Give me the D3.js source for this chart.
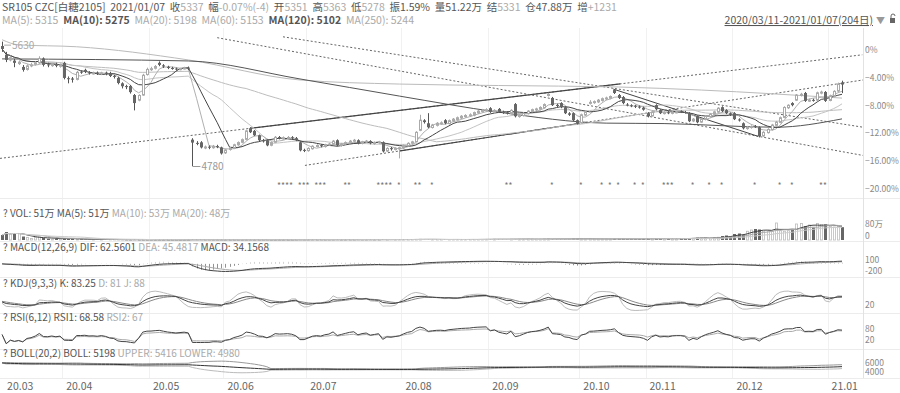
<!DOCTYPE html>
<html><head><meta charset="utf-8">
<script src="https://cdn.jsdelivr.net/npm/d3@7"></script>
<style>
body{margin:0;background:#fff;}
svg{display:block;font-family:"Noto Sans CJK SC","Noto Sans",sans-serif;}
</style></head><body>
<svg id="c" width="900" height="393"></svg>
<script>
// ---------------- DATA ----------------
const opens = [5600,5540,5505,5500,5480,5457,5440,5468,5475,5485,5515,5475,5466,5478,5462,
5485,5380,5378,5372,5425,5437,5420,5413,5418,5410,5418,5416,5396,5382,5345,5326,5327,5265,5230,5265,5405,
5440,5448,5485,5468,5458,5450,5446,5440,5446,5452,4960,4938,4942,4905,4912,4905,4916,4907,
4870,4895,4900,4925,4942,4962,5038,5020,4990,4955,4956,4922,4942,4978,4968,4970,4976,4970,4942,4890,
4885,4898,4916,4922,4913,4926,4932,4956,4920,4932,4942,4950,4956,4936,4946,4950,4933,4940,4942,4882,4902,4893,4898,
4903,4918,4936,4947,5024,5092,5072,5043,5058,5071,5093,5070,5088,5098,5108,5118,5123,5128,5143,5153,5158,
5175,5148,5170,5150,5146,5140,5203,5118,5125,5138,5153,5163,5168,5178,5262,5245,5198,5210,5182,5140,5141,5093,
5075,5128,5210,5213,5218,5228,5238,5243,5299,5265,5251,5200,5195,5192,5186,5178,
5141,5122,5196,5162,5140,5147,5140,5146,5152,5149,5141,5088,5120,5080,5098,5118,5133,5148,5182,5162,5140,
5141,5098,5072,5036,5043,5052,5045,4985,5008,5028,5058,5078,5112,5178,5210,5230,5262,5279,5226,5232,5230,5278,5286,
5228,5258,5292,5351];
const highs = [5630,5560,5535,5512,5502,5470,5475,5485,5496,5530,5522,5486,5484,5486,5480,
5492,5392,5388,5430,5432,5445,5428,5425,5426,5424,5425,5424,5402,5390,5352,5335,5334,5272,5270,5410,5452,
5458,5470,5495,5476,5465,5458,5452,5452,5458,5460,4970,4950,4950,4920,4920,4924,4925,4912,
4898,4910,4932,4948,4968,5028,5045,5026,4995,4965,4962,4948,4985,4985,4982,4985,4984,4978,4948,4898,
4908,4922,4928,4930,4932,4938,4958,4962,4938,4948,4958,4965,4962,4952,4958,4956,4948,4952,4948,4908,4910,4908,4912,
4928,4942,4952,5018,5130,5100,5141,5068,5080,5085,5100,5098,5108,5118,5128,5134,5140,5152,5162,5170,5175,
5182,5168,5176,5158,5155,5168,5210,5136,5148,5162,5172,5178,5188,5208,5280,5252,5205,5216,5188,5148,5146,5098,
5138,5158,5230,5228,5238,5248,5254,5262,5306,5272,5258,5210,5202,5198,5194,5186,
5148,5158,5202,5168,5154,5155,5156,5158,5160,5156,5148,5108,5126,5108,5128,5142,5158,5182,5188,5168,5146,
5148,5106,5078,5054,5058,5060,5050,5018,5038,5068,5088,5118,5188,5202,5216,5272,5280,5286,5240,5240,5288,5295,5292,
5268,5298,5350,5363];
const lows = [5560,5490,5495,5455,5470,5425,5432,5455,5466,5478,5460,5455,5458,5455,5452,
5372,5345,5350,5365,5410,5415,5405,5405,5402,5402,5400,5388,5378,5338,5310,5305,5275,5160,5222,5260,5398,
5430,5440,5462,5450,5442,5438,5432,5434,5440,5436,4780,4922,4900,4895,4895,4898,4902,4858,
4862,4885,4895,4918,4935,4955,5005,4984,4950,4940,4915,4915,4936,4962,4960,4962,4962,4950,4880,4875,
4878,4892,4908,4908,4906,4918,4926,4915,4912,4925,4935,4942,4928,4928,4938,4928,4925,4932,4872,4875,4885,4886,4832,
4896,4912,4928,4940,5018,5070,5038,5036,5050,5062,5065,5064,5080,5090,5100,5110,5115,5120,5136,5145,5150,
5143,5140,5144,5136,5132,5133,5112,5110,5118,5132,5146,5156,5160,5172,5255,5190,5182,5175,5135,5122,5086,5064,
5070,5122,5200,5205,5210,5220,5230,5236,5272,5238,5202,5188,5182,5176,5172,5158,
5112,5118,5160,5135,5132,5134,5133,5140,5142,5138,5080,5080,5072,5075,5092,5110,5126,5142,5148,5134,5122,
5094,5084,5030,5028,5035,5040,4975,4980,5002,5022,5052,5072,5106,5170,5188,5224,5255,5218,5218,5220,5225,5270,5218,
5222,5250,5285,5278];
const closes = [5580,5505,5520,5485,5490,5437,5464,5471,5485,5515,5471,5468,5475,5465,5470,
5382,5375,5370,5420,5420,5423,5415,5416,5412,5416,5410,5395,5390,5347,5325,5320,5285,5210,5262,5400,5440,
5445,5460,5471,5460,5450,5445,5440,5445,5450,5445,4940,4935,4907,4910,4905,4915,4912,4866,
4890,4900,4925,4940,4960,5020,5011,4990,4956,4950,4921,4940,4976,4970,4972,4975,4970,4956,4887,4887,
4900,4915,4920,4915,4925,4930,4950,4921,4930,4940,4950,4956,4935,4945,4950,4935,4940,4945,4880,4900,4895,4900,4905,
4920,4935,4945,5010,5093,5080,5045,5060,5072,5075,5072,5090,5100,5110,5120,5125,5130,5145,5155,5160,5165,
5150,5160,5150,5145,5141,5160,5120,5127,5140,5155,5165,5170,5180,5200,5270,5196,5190,5182,5141,5130,5093,5072,
5130,5150,5215,5220,5230,5240,5245,5255,5279,5245,5210,5196,5190,5185,5180,5165,
5120,5150,5168,5141,5145,5141,5148,5150,5150,5145,5086,5100,5079,5100,5120,5135,5150,5175,5155,5141,5130,
5100,5093,5038,5045,5050,5048,4983,5010,5030,5060,5080,5110,5180,5195,5196,5265,5270,5225,5230,5228,5280,5285,5225,
5260,5290,5341,5337];
const volumes = [20,32,24,28,26,14,10,6,11,13,8,5,4,6,5,
8,5,4,3,3,2,2,2,3,2,2,1.5,1.5,1.5,1.5,1,1,1.5,1,1,1,
1,1,1,0.8,0.8,0.8,0.8,0.8,0.8,0.8,2,1.5,1.5,1,1,1,1,1.2,
1,1,1,1,1,1.2,1.2,1,1,1,1.2,1,1,1,1,1,1,1.2,1.5,1.2,
1.5,1.5,1.2,1.2,1.2,1.5,1.5,1.5,1.2,1.2,1.5,1.5,1.5,1.5,1.5,1.5,1.5,1.5,2,1.8,1.8,1.8,2,
2,2,2,2.5,3,2.5,2.5,2,2,2,2,2,2,2,2,2,2.2,2.2,2.2,2.5,2.5,
3,3,3,2.5,2.5,3,4,3,3,3,3,3,3,3.5,4,4,3.5,3.5,4,4,5,5,
4,4,5,4,4,4,4,4,5,5,5,4,4,4,4,5,
6,5,6,6,5,5,5,5,6,6,8,7,9,8,
8,6,9,11,16,18,14,
24,26,22,35,40,44,42,
35,37,35,68,37,35,37,40,64,66,56,60,50,66,62,62,
54,52,55,51.22];
const monthLabels = ["20.03","20.04","20.05","20.06","20.07","20.08","20.09","20.10","20.11","20.12","21.01"];
const monthStarts = [0,15,36,54,74,97,118,140,156,177,200];
const pctTicks = [0,-4,-8,-12,-16,-20];
const starDays = [67,68,69,70,72,73,74,76,77,78,83,84,91,92,93,94,96,100,101,104,122,123,133,140,145,147,149,153,155,160,161,162,167,171,174,182,188,191,198,199];
// long moving averages (day index, price)
const ma120Read = [[0,5512],[45,5498],[72,5375],[96,5258],[120,5148],[146,5073],[160,5070],[187,5045],[203,5102]];
const ma250Read = [[0,5643],[4,5608],[18,5595],[45,5505],[72,5368],[96,5340],[120,5330],[149,5320],[169,5299],[203,5244]];
// drawn trend lines (day index, price)
const trendLines = [
  {a:[-0.5,4832], b:[207.9,5540], dotted:true, solid:[60,149.4]},
  {a:[52,5657], b:[208.1,4852], dotted:true},
  {a:[67.9,5663], b:[208.1,5045], dotted:true},
  {a:[73.2,4784], b:[208.1,5368], dotted:true, solid:[96.2,139]},
  {a:[147.7,5306], b:[182.7,4983], dotted:false}
];
const headerRow = [["SR105 CZC[白糖2105]","d"],["  2021/01/07  ","d"],["收","d"],["5337","l"],["  幅","d"],["-0.07%(-4)","l"],["  开","d"],["5351","l"],["  高","d"],["5363","l"],["  低","d"],["5278","l"],["  振1.59%","d"],["  量51.22万","d"],["  结","d"],["5331","l"],["  仓47.88万","d"],["  增","d"],["+1231","l"]];
const maRow = [["MA(5): 5315","l"],["  MA(10): 5275","b"],["  MA(20): 5198","l"],["  MA(60): 5153","l"],["  MA(120): 5102","b"],["  MA(250): 5244","l"]];
const volTitle = [["? ","d"],["VOL: 51万 MA(5): 51万","d"],[" MA(10): 53万","l"],[" MA(20): 48万","l"]];
const macdTitle = [["? ","d"],["MACD(12,26,9) DIF: 62.5601","d"],[" DEA: 45.4817","l"],[" MACD: 34.1568","d"]];
const kdjTitle = [["? ","d"],["KDJ(9,3,3) K: 83.25","d"],[" D: 81 J: 88","l"]];
const rsiTitle = [["? ","d"],["RSI(6,12) RSI1: 68.58","d"],[" RSI2: 67","l"]];
const bollTitle = [["? ","d"],["BOLL(20,2) BOLL: 5198","d"],[" UPPER: 5416 LOWER: 4980","l"]];
const dateRange = "2020/03/11-2021/01/07(204日)";
const volTicks = [["80万",80],["0",0]];
const macdTicks = [100,-200];
const kdjTicks = [20];
const rsiTicks = [80,20];
const bollTickLabels = ["6000","4000"];

// ---------------- CHART ----------------
if([opens,highs,lows,volumes].some(a=>a.length!==closes.length)) throw new Error("len");
const N = closes.length;
const svg = d3.select("#c");
const DARK="#555", LIGHT="#aaa";
const colorOf = k => k==="l"?LIGHT:DARK;
const plotR = 863;
const x = d3.scaleLinear().domain([0,N-1]).range([2.07,842]);
const yP = d3.scaleLinear().domain([4780,5337]).range([166,84.5]);
const yPct = d3.scaleLinear().domain([0,-20]).range([50,189]);
const main = {top:28,bottom:197};
const volY = d3.scaleLinear().domain([0,80]).range([240,220]);
const macdY = d3.scaleLinear().domain([-250,150]).range([277,256]);
const kdjY = d3.scaleLinear().domain([0,100]).range([308,294]);
const rsiY = d3.scaleLinear().domain([0,100]).range([343.7,325.3]);
const bollY = d3.scaleLinear().domain([4600,5800]).range([372.7,360.7]);
const AX = 8.5;

function rich(x0,y0,segs,size){
  const t=svg.append("text").attr("x",x0).attr("y",y0).attr("font-size",size).style("white-space","pre");
  segs.forEach(([s,k])=>t.append("tspan").attr("fill",colorOf(k)).attr("font-weight",k==="b"?"bold":null).text(s));
  return t;
}
function axisText(y,s){ svg.append("text").attr("x",865).attr("y",y).attr("font-size",AX).attr("fill","#888").text(s); }

// grid
const grid = svg.append("g");
monthStarts.forEach(m=>{ if(m>0) grid.append("line").attr("x1",Math.round(x(m)-2)+0.5).attr("x2",Math.round(x(m)-2)+0.5).attr("y1",28).attr("y2",378).attr("stroke","#f1f1f1"); });
[198,241,277,313,349,378].forEach(y=>grid.append("line").attr("x1",0).attr("x2",900).attr("y1",y+0.5).attr("y2",y+0.5).attr("stroke","#ececec"));
grid.append("line").attr("x1",plotR+0.5).attr("x2",plotR+0.5).attr("y1",28).attr("y2",378).attr("stroke","#e2e2e2");

// header
rich(2,11,headerRow,10.5);
rich(2,24,maRow,10.5);
svg.append("text").attr("x",873).attr("y",24).attr("text-anchor","end").attr("font-size",10.5).attr("fill","#555").attr("text-decoration","underline").text(dateRange);
svg.append("text").attr("x",876).attr("y",24).attr("font-size",9).attr("fill","#999").text("▼");
svg.append("rect").attr("x",890).attr("y",18).attr("width",5).attr("height",5).attr("fill","#666");
svg.append("path").attr("d","M891,18 v-2 a2,2 0 0 1 4,0").attr("fill","none").attr("stroke","#666");

// clip
const defs=svg.append("defs");
defs.append("clipPath").attr("id","mc").append("rect").attr("x",0).attr("y",main.top).attr("width",plotR).attr("height",main.bottom-main.top);
const mg = svg.append("g").attr("clip-path","url(#mc)");

// trend lines
const interp=(L,i)=>L.a[1]+(L.b[1]-L.a[1])*(i-L.a[0])/(L.b[0]-L.a[0]);
trendLines.forEach(L=>{
  mg.append("line").attr("x1",x(L.a[0])).attr("y1",yP(L.a[1])).attr("x2",x(L.b[0])).attr("y2",yP(L.b[1]))
    .attr("stroke",L.dotted?"#666":"#444").attr("stroke-width",1).attr("stroke-dasharray",L.dotted?"2,2":null);
  if(L.solid){
    const [s,e]=L.solid;
    mg.append("line").attr("x1",x(s)).attr("y1",yP(interp(L,s))).attr("x2",x(e)).attr("y2",yP(interp(L,e))).attr("stroke","#444").attr("stroke-width",1.1);
  }
});

// moving averages
const ma=(arr,n)=>arr.map((_,i)=>d3.mean(arr.slice(Math.max(0,i-n+1),i+1)));
const lineP = d3.line().x((d,i)=>x(i)).y(d=>yP(d));
const lineS = d3.line().x(d=>x(d[0])).y(d=>yP(d[1])).curve(d3.curveMonotoneX);
const mas = [
  {d:ma(closes,60),c:"#bdbdbd",w:1},
  {d:ma(closes,20),c:"#c4c4c4",w:1},
  {d:ma(closes,5),c:"#b0b0b0",w:1},
  {d:ma(closes,10),c:"#444",w:1}
];
mg.append("path").attr("d",lineS(ma250Read)).attr("fill","none").attr("stroke","#bbb");
mg.append("path").attr("d",lineS(ma120Read)).attr("fill","none").attr("stroke","#555");
mas.forEach(m=>mg.append("path").attr("d",lineP(m.d)).attr("fill","none").attr("stroke",m.c).attr("stroke-width",m.w));

// candles
const cg = mg.append("g");
d3.range(N).forEach(i=>{
  const up = closes[i]>=opens[i];
  const cx = Math.round(x(i));
  const col = up?"#aaa":"#555";
  cg.append("line").attr("x1",cx+0.5).attr("x2",cx+0.5).attr("y1",yP(highs[i])).attr("y2",yP(lows[i])).attr("stroke",col);
  const yt = yP(Math.max(opens[i],closes[i])), yb = yP(Math.min(opens[i],closes[i]));
  const h = Math.max(1,yb-yt);
  if(up) cg.append("rect").attr("x",cx-0.5).attr("y",yt).attr("width",2).attr("height",h).attr("fill","#fff").attr("stroke",col);
  else cg.append("rect").attr("x",cx-1).attr("y",yt).attr("width",3).attr("height",h).attr("fill","#666").attr("stroke","none");
});

// high / low labels
const hiI = d3.maxIndex(highs), loI = d3.minIndex(lows);
mg.append("line").attr("x1",x(hiI)+2).attr("x2",x(hiI)+9).attr("y1",yP(highs[hiI])+3.5).attr("y2",yP(highs[hiI])+3.5).attr("stroke","#aaa");
mg.append("text").attr("x",x(hiI)+10).attr("y",yP(highs[hiI])+7).attr("font-size",10).attr("fill","#aaa").text(highs[hiI]);
mg.append("line").attr("x1",x(loI)).attr("x2",x(loI)+8).attr("y1",yP(lows[loI])+0.5).attr("y2",yP(lows[loI])+0.5).attr("stroke","#999");
mg.append("text").attr("x",x(loI)+9).attr("y",yP(lows[loI])+4).attr("font-size",10).attr("fill","#999").text(lows[loI]);

// stars (runs of consecutive days share one text)
const runs=[]; starDays.forEach(d=>{const r=runs[runs.length-1]; if(r && d===r[r.length-1]+1) r.push(d); else runs.push([d]);});
runs.forEach(r=>svg.append("text").attr("x",x(r[0])-2.3).attr("y",189).attr("font-size",9).attr("fill","#777")
  .attr("textLength",r.length*4.137-0.5).attr("lengthAdjust","spacingAndGlyphs").text("*".repeat(r.length)));

// right axis pct
pctTicks.forEach(t=>axisText(yPct(t)+3,t===0?"0%":d3.format(".2f")(t)+"%"));

// ---- VOL ----
rich(3,217,volTitle,10);
d3.range(N).forEach(i=>{
  const up = closes[i]>=opens[i]; const cx=Math.round(x(i));
  const y0=volY(volumes[i]), h=Math.max(0.5,volY(0)-y0);
  if(up) svg.append("rect").attr("x",cx-0.5).attr("y",y0).attr("width",2).attr("height",h).attr("fill","#fff").attr("stroke","#bbb").attr("stroke-width",0.8);
  else svg.append("rect").attr("x",cx-1).attr("y",y0).attr("width",3).attr("height",h).attr("fill","#666");
});
const lineV=d3.line().x((d,i)=>x(i)).y(d=>volY(d));
[[5,"#444"],[10,"#aaa"],[20,"#ccc"]].forEach(([n,c])=>svg.append("path").attr("d",lineV(ma(volumes,n))).attr("fill","none").attr("stroke",c));
volTicks.forEach(([s,v])=>axisText(v?volY(v)+7:volY(v)-1,s));

// ---- MACD ----
const ema=(arr,n)=>{const a=2/(n+1);const o=[];arr.forEach((v,i)=>o.push(i?a*v+(1-a)*o[i-1]:v));return o;};
const e12=ema(closes,12), e26=ema(closes,26);
const dif=e12.map((v,i)=>v-e26[i]); const dea=ema(dif,9); const macd=dif.map((v,i)=>2*(v-dea[i]));
rich(3,251,macdTitle,10);
d3.range(N).forEach(i=>{const cx=Math.round(x(i))+0.5; svg.append("line").attr("x1",cx).attr("x2",cx).attr("y1",macdY(0)).attr("y2",macdY(macd[i])).attr("stroke",macd[i]>=0?"#c8c8c8":"#777").attr("stroke-width",0.8);});
const lineM=d3.line().x((d,i)=>x(i)).y(d=>macdY(d));
svg.append("path").attr("d",lineM(dea)).attr("fill","none").attr("stroke","#aaa");
svg.append("path").attr("d",lineM(dif)).attr("fill","none").attr("stroke","#444");
macdTicks.forEach(t=>axisText(macdY(t)+(t>0?4:0),t));

// ---- KDJ ----
const K=[],D=[],J=[];
d3.range(N).forEach(i=>{const s=Math.max(0,i-8);const lo=d3.min(lows.slice(s,i+1)),hi=d3.max(highs.slice(s,i+1));
  const rsv=hi===lo?50:(closes[i]-lo)/(hi-lo)*100; const k=(i?K[i-1]:50)*2/3+rsv/3; const d=(i?D[i-1]:50)*2/3+k/3; K.push(k);D.push(d);J.push(3*k-2*d);});
rich(3,287,kdjTitle,10);
const lineK=d3.line().x((d,i)=>x(i)).y(d=>kdjY(d));
svg.append("path").attr("d",lineK(J)).attr("fill","none").attr("stroke","#bbb");
svg.append("path").attr("d",lineK(D)).attr("fill","none").attr("stroke","#888");
svg.append("path").attr("d",lineK(K)).attr("fill","none").attr("stroke","#444");
kdjTicks.forEach(t=>axisText(kdjY(t)+3,t));

// ---- RSI ----
const rsi=n=>{let u=0,a=0;return closes.map((c,i)=>{if(!i)return 50;const d=c-closes[i-1];u=(Math.max(d,0)+(n-1)*u)/n;a=(Math.abs(d)+(n-1)*a)/n;return a?u/a*100:50;});};
rich(3,321,rsiTitle,10);
const lineR=d3.line().x((d,i)=>x(i)).y(d=>rsiY(d));
svg.append("path").attr("d",lineR(rsi(12))).attr("fill","none").attr("stroke","#aaa");
svg.append("path").attr("d",lineR(rsi(6))).attr("fill","none").attr("stroke","#444");
rsiTicks.forEach(t=>axisText(rsiY(t)+(t>50?3:3),t));

// ---- BOLL ----
const mid=ma(closes,20);
const sd=closes.map((_,i)=>{const w=closes.slice(Math.max(0,i-19),i+1);const m=d3.mean(w);return Math.sqrt(d3.mean(w,v=>(v-m)*(v-m)));});
rich(3,357,bollTitle,10);
const lineB=d3.line().x((d,i)=>x(i)).y(d=>bollY(d));
svg.append("path").attr("d",lineB(mid.map((m,i)=>m+2*sd[i]))).attr("fill","none").attr("stroke","#999");
svg.append("path").attr("d",lineB(mid.map((m,i)=>m-2*sd[i]))).attr("fill","none").attr("stroke","#bbb");
svg.append("path").attr("d",lineB(mid)).attr("fill","none").attr("stroke","#333");
bollTickLabels.forEach((s,k)=>axisText(366+k*8.5,s));

// x labels
monthLabels.forEach((s,k)=>svg.append("text").attr("x",x(monthStarts[k])+(k?2:5)).attr("y",390).attr("font-size",10.5).attr("fill","#666").text(s));
</script></body></html>
